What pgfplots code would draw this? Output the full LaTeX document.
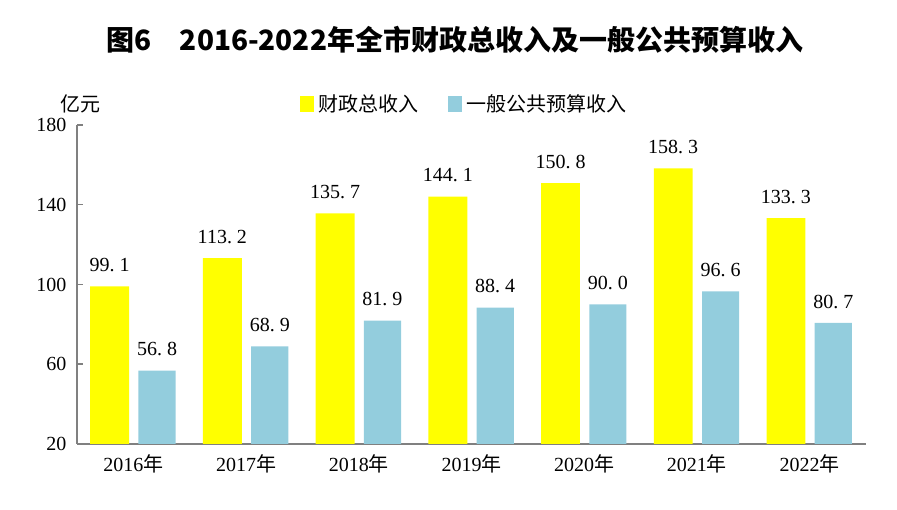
\documentclass[border=0pt]{standalone}
\usepackage{fontspec}
\setmainfont{Liberation Serif}
\newfontfamily\cjk{Noto Sans CJK SC}
\usepackage{pgfplots}
\pgfplotsset{compat=1.18}
\definecolor{byel}{HTML}{FFFF00}
\definecolor{bblue}{HTML}{93CDDD}
\definecolor{axgray}{HTML}{808080}
\begin{document}
\begin{tikzpicture}[x=1pt,y=1pt]
\useasboundingbox (0,0) rectangle (897,510);
\node[font=\cjk\bfseries\fontsize{28}{34}\selectfont, anchor=center] at (455,470) {图6\hspace{1em}2016-2022年全市财政总收入及一般公共预算收入};
\begin{axis}[
  at={(77pt,66pt)}, anchor=south west,
  scale only axis, width=789pt, height=319pt,
  xmin=-0.5, xmax=6.5, ymin=20, ymax=180,
  ytick={20,60,100,140,180},
  xtick={0,1,2,3,4,5,6},
  xticklabels={2016{\cjk 年},2017{\cjk 年},2018{\cjk 年},2019{\cjk 年},2020{\cjk 年},2021{\cjk 年},2022{\cjk 年}},
  axis x line=bottom, axis y line=left,
  axis line style={-, axgray, line width=1.8pt},
  major x tick style={draw=none},
  major y tick style={axgray, line width=1.5pt},
  tick align=inside, major tick length=6pt,
  /pgf/number format/assume math mode=true,
  ticklabel style={font=\fontsize{20}{24}\selectfont},
  yticklabel style={xshift=-7pt},
  xticklabel style={yshift=-7pt},
  nodes near coords,
  nodes near coords style={font=\fontsize{20}{24}\selectfont, anchor=south, yshift=11pt,
    /pgf/number format/fixed, /pgf/number format/fixed zerofill,
    /pgf/number format/precision=1, /pgf/number format/assume math mode=true,
    /pgf/number format/set decimal separator={.\hspace{0.25em}}},
  legend style={at={(axis description cs:0.492,1.066)}, anchor=center, draw=none, fill=none,
    font=\cjk\fontsize{20}{24}\selectfont, legend columns=2,
    /tikz/every even column/.append style={column sep=26pt},
    nodes={inner sep=4pt}},
  clip=false,
]
\addplot[ybar, bar width=0.345, bar shift=-0.21, fill=byel, draw=none,
  every node near coord/.append style={xshift=-23.7pt},
  legend image code/.code={\fill[byel] (0pt,-8pt) rectangle (14pt,8pt);}]
  coordinates {(0,99.1) (1,113.2) (2,135.7) (3,144.1) (4,150.8) (5,158.3) (6,133.3)};
\addlegendentry{财政总收入}
\addplot[ybar, bar width=0.33, bar shift=0.21, fill=bblue, draw=none,
  every node near coord/.append style={xshift=23.7pt},
  legend image code/.code={\fill[bblue] (0pt,-8pt) rectangle (14pt,8pt);}]
  coordinates {(0,56.8) (1,68.9) (2,81.9) (3,88.4) (4,90.0) (5,96.6) (6,80.7)};
\addlegendentry{一般公共预算收入}
\node[font=\cjk\fontsize{20}{24}\selectfont, anchor=center] at (axis description cs:0.004,1.066) {亿元};
\end{axis}
\end{tikzpicture}
\end{document}
